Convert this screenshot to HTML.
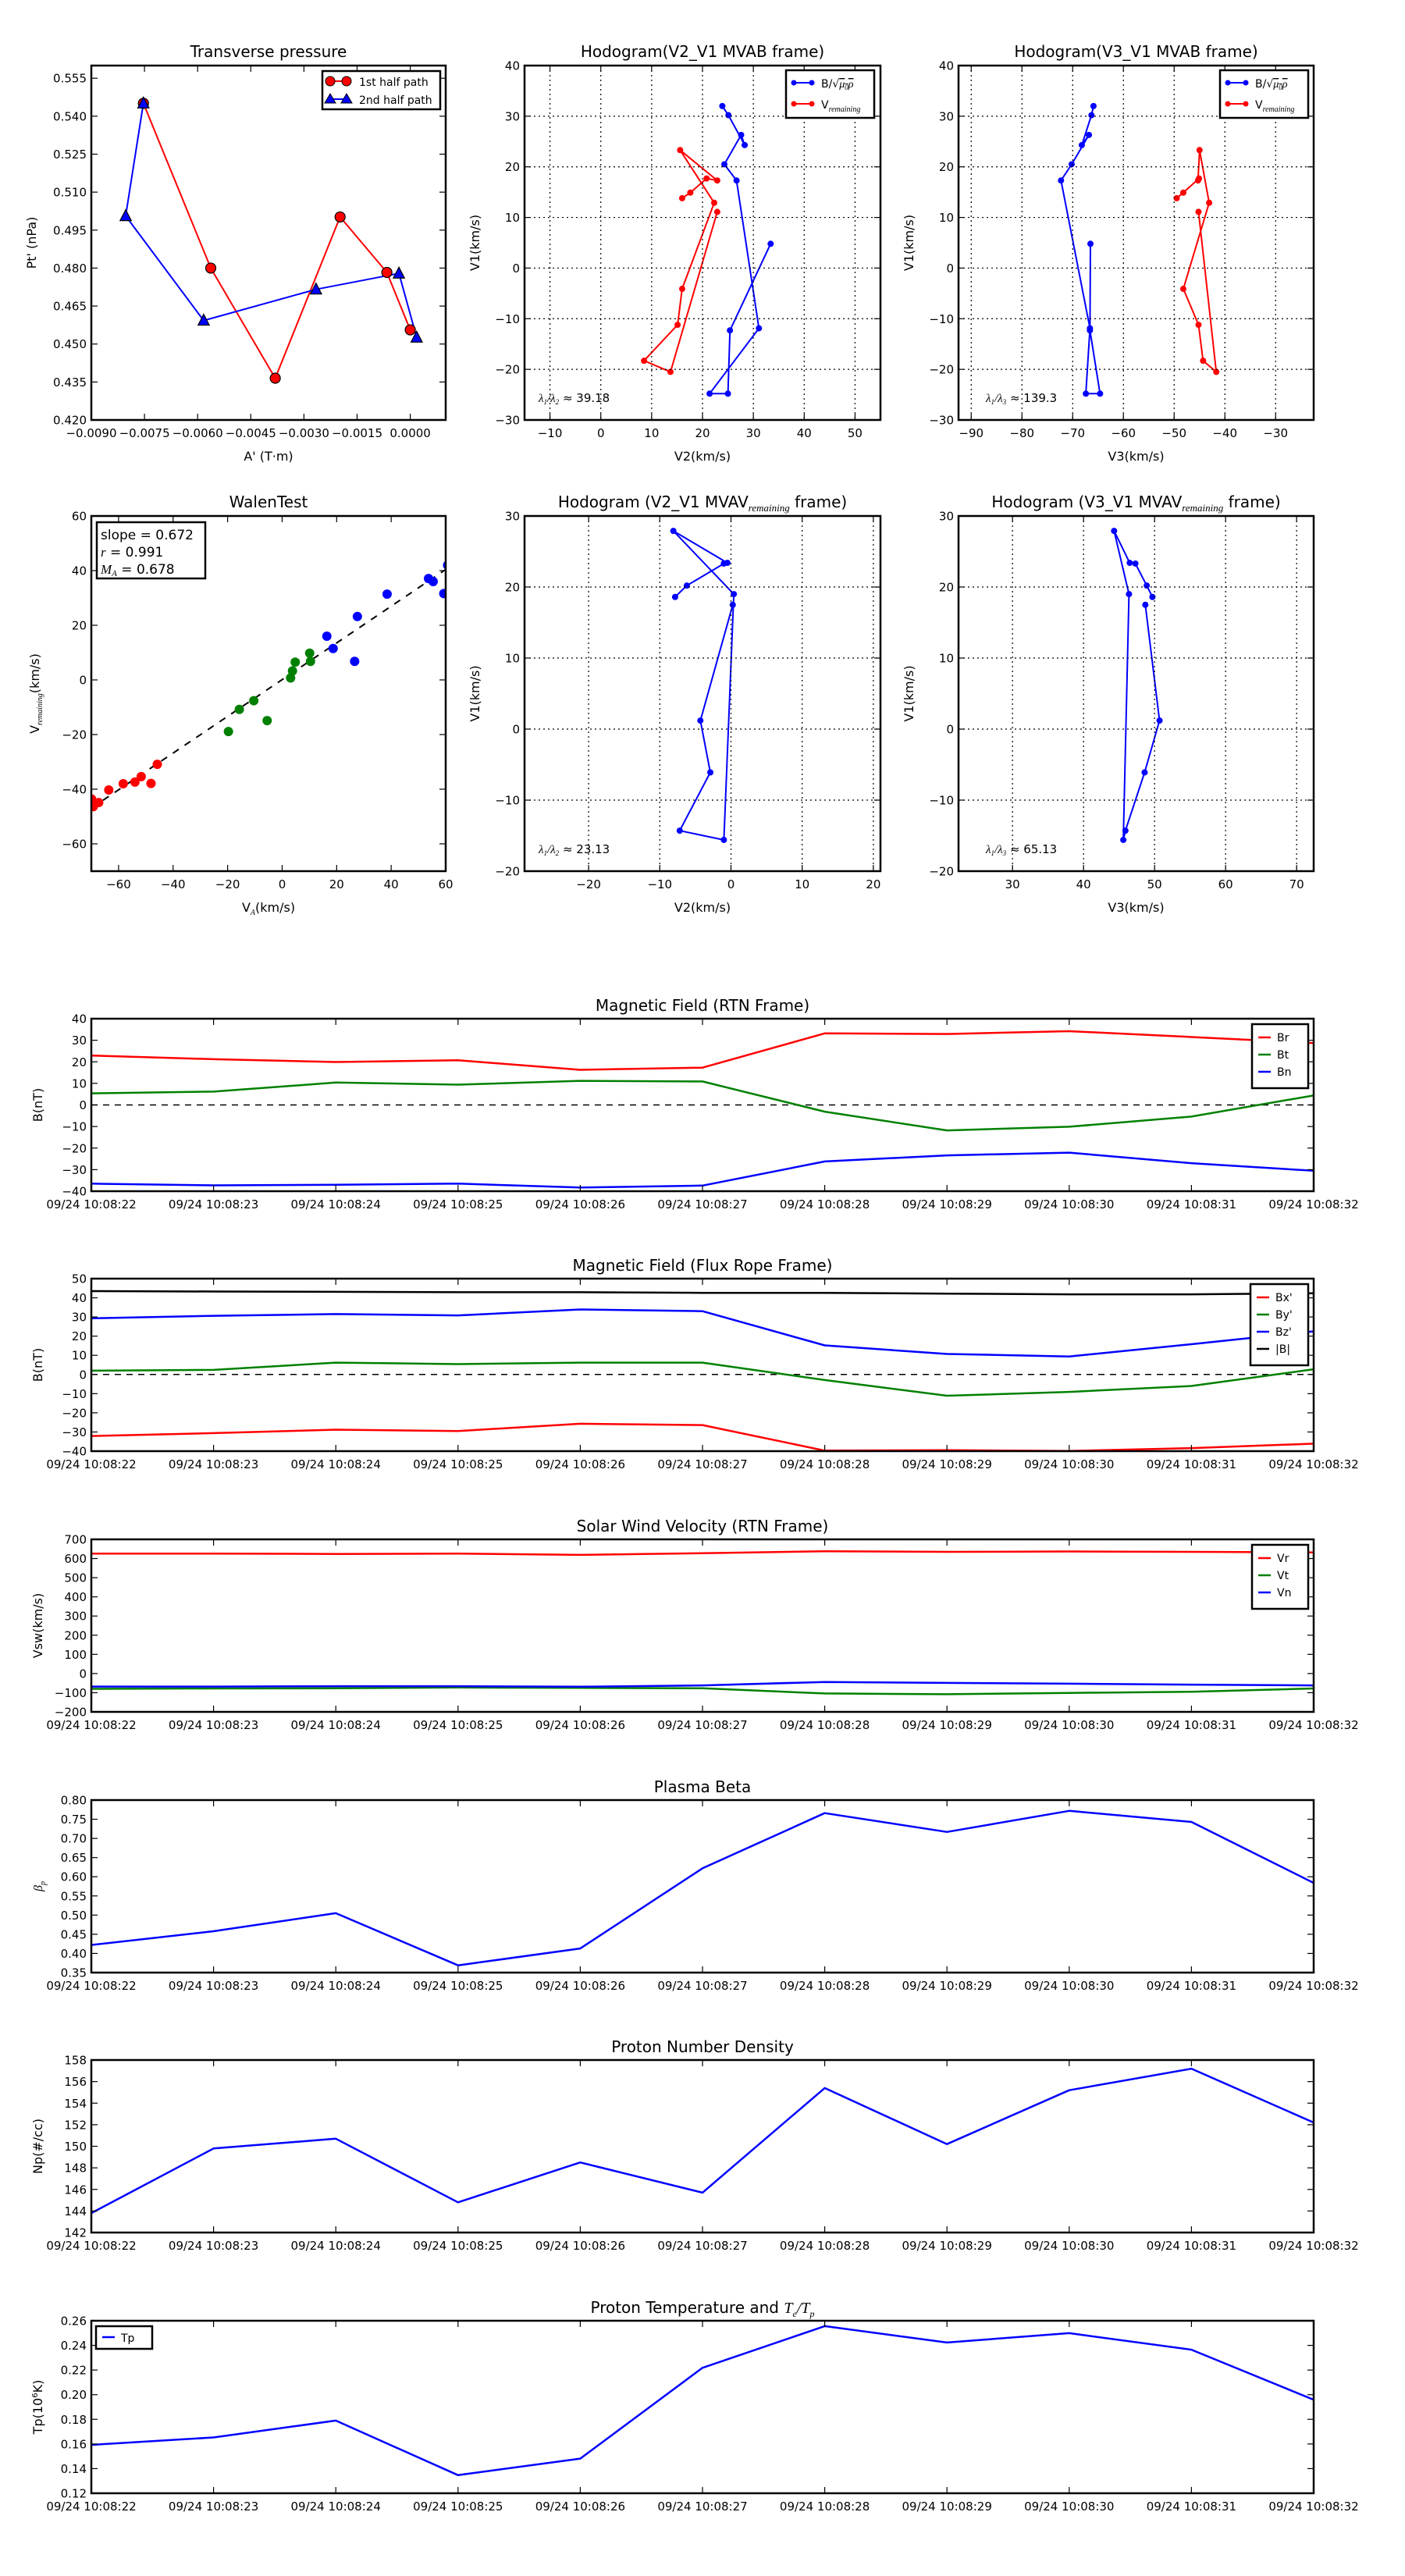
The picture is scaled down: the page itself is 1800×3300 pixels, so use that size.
<!DOCTYPE html>
<html><head><meta charset="utf-8"><title>Flux rope analysis</title>
<style>
html,body{margin:0;padding:0;background:#fff;}
svg{display:block;font-family:"DejaVu Sans","Liberation Sans",sans-serif;}
</style></head>
<body>
<svg id="fig" width="1800" height="3300" viewBox="0 0 1800 3300" xmlns="http://www.w3.org/2000/svg">
<rect x="0" y="0" width="1800" height="3300" fill="#fff"/>
</svg>
<script>
// ===== Data =====
const ptRedA = [-0.00753,-0.00563,-0.00381,-0.00198,-0.00066,0.0000];
const ptRedP = [0.5451,0.4800,0.4365,0.5002,0.4783,0.4556];
const ptBlueA = [-0.00753,-0.00803,-0.00583,-0.00266,-0.00032,0.00018];
const ptBlueP = [0.5451,0.5006,0.4593,0.4716,0.4779,0.4526];

const hodoBV2 = [23.9,25.1,28.3,27.6,24.3,26.7,31.1,21.4,25.0,25.4,33.4];
const hodoBV1 = [32.0,30.2,24.3,26.3,20.5,17.3,-11.9,-24.8,-24.8,-12.3,4.8];
const hodoBV3 = [-65.9,-66.3,-68.2,-66.8,-70.2,-72.3,-66.6,-67.4,-64.6,-66.6,-66.5];
const hodoRV2 = [16.0,17.6,20.8,22.9,15.6,22.3,16.0,15.1,8.5,13.7,22.9];
const hodoRV1 = [13.8,14.9,17.7,17.3,23.3,12.9,-4.1,-11.2,-18.3,-20.5,11.1];
const hodoRV3 = [-49.5,-48.2,-45.1,-45.3,-45.0,-43.1,-48.2,-45.2,-44.3,-41.7,-45.2];

const walenRedX = [-69.9,-69.3,-67.3,-63.6,-58.3,-54.0,-51.7,-48.1,-45.8];
const walenRedY = [-43.6,-46.4,-44.9,-40.3,-38.0,-37.4,-35.4,-37.9,-30.9];
const walenGreenX = [-19.7,-15.7,-10.4,-5.5,3.1,3.8,4.8,10.1,10.4];
const walenGreenY = [-18.9,-10.8,-7.6,-14.9,0.7,3.3,6.5,9.8,6.8];
const walenBlueX = [16.4,18.7,26.6,27.6,38.5,53.7,55.4,59.3,60.7];
const walenBlueY = [16.0,11.5,6.8,23.2,31.4,37.1,36.0,31.6,42.0];
const walenSlope = 0.672;
const walenIntercept = 0.1;

const mvavV2 = [-7.85,-6.2,-1.0,-0.5,-8.1,0.4,-1.0,-7.2,-2.9,-4.3,0.25];
const mvavV1 = [18.6,20.2,23.3,23.4,27.9,19.0,-15.6,-14.3,-6.1,1.2,17.5];
const mvavV3 = [49.7,48.9,47.3,46.5,44.3,46.4,45.6,45.9,48.6,50.7,48.7];

const timeLabels = ["09/24 10:08:22","09/24 10:08:23","09/24 10:08:24","09/24 10:08:25","09/24 10:08:26","09/24 10:08:27","09/24 10:08:28","09/24 10:08:29","09/24 10:08:30","09/24 10:08:31","09/24 10:08:32"];
const Br = [22.9,21.2,19.9,20.7,16.3,17.3,33.2,32.9,34.2,31.5,28.7];
const Bt = [5.4,6.2,10.4,9.4,11.2,10.9,-3.1,-11.8,-10.1,-5.4,4.4];
const Bn = [-36.5,-37.3,-37.0,-36.5,-38.3,-37.4,-26.2,-23.4,-22.1,-27.0,-30.5];
const Bxp = [-32.1,-30.6,-28.8,-29.5,-25.7,-26.4,-39.7,-39.5,-39.9,-38.4,-36.1];
const Byp = [2.0,2.4,6.2,5.4,6.2,6.2,-2.9,-11.1,-9.1,-6.0,2.7];
const Bzp = [29.3,30.6,31.5,30.8,33.9,33.0,15.2,10.7,9.4,15.8,22.5];
const Bmag = [43.5,43.3,43.1,42.9,42.9,42.6,42.6,42.2,41.8,41.8,42.4];
const Vr = [626,626,624,626,619,628,638,635,637,635,632];
const Vt = [-80,-78,-77,-73,-75,-77,-104,-108,-101,-95,-78];
const Vn = [-68,-68,-66,-66,-69,-62,-44,-49,-53,-58,-62];
const betaP = [0.422,0.458,0.505,0.369,0.413,0.622,0.766,0.717,0.772,0.743,0.584];
const Np = [143.8,149.8,150.7,144.8,148.5,145.7,155.4,150.2,155.2,157.2,152.2];
const Tp = [0.1593,0.1653,0.1790,0.1347,0.1481,0.2218,0.2556,0.2423,0.2499,0.2365,0.1959];

// ===== Helpers =====
const NS = 'http://www.w3.org/2000/svg';
const svg = document.getElementById('fig');
function mk(tag, attrs, parent){
  const e = document.createElementNS(NS, tag);
  for (const k in attrs) e.setAttribute(k, attrs[k]);
  (parent||svg).appendChild(e);
  return e;
}
function fmtNum(v, d){ const s = Math.abs(v).toFixed(d); return (v < -1e-12 ? '\u2212' : '') + s; }
let clipId = 0;

function makeAxes(name, x0, y0, w, h, xr, yr){
  const g = mk('g', {});
  
  
  const sx = v => x0 + (v - xr[0]) / (xr[1] - xr[0]) * w;
  const sy = v => y0 + h - (v - yr[0]) / (yr[1] - yr[0]) * h;
  clipId++;
  const cp = mk('clipPath', {id:'cp'+clipId}, g);
  mk('rect', {x:x0, y:y0, width:w, height:h}, cp);
  const data = mk('g', {'clip-path':'url(#cp'+clipId+')'}, g);
  
  
  return {g, data, sx, sy, x0, y0, w, h};
}
function frame(ax){
  const r = mk('rect', {x:ax.x0, y:ax.y0, width:ax.w, height:ax.h, fill:'none', stroke:'#000', 'stroke-width':2.5}, ax.g);
  
  
}
function xTicks(ax, vals, labels, grid, labY){
  vals.forEach((v,i)=>{
    const x = ax.sx(v);
    if (grid){
      const gl = mk('line', {x1:x, y1:ax.y0, x2:x, y2:ax.y0+ax.h, stroke:'#000', 'stroke-width':1.2, 'stroke-dasharray':'2,4'}, ax.g);
      
      
    }
    const t1 = mk('line', {x1:x, y1:ax.y0+ax.h, x2:x, y2:ax.y0+ax.h-8, stroke:'#000', 'stroke-width':1.2}, ax.g);
    
    
    const t2 = mk('line', {x1:x, y1:ax.y0, x2:x, y2:ax.y0+8, stroke:'#000', 'stroke-width':1.2}, ax.g);
    
    
    const tx = mk('text', {x:x, y:labY || (ax.y0+ax.h+22), 'text-anchor':'middle', 'font-size':15}, ax.g);
    tx.textContent = labels[i];
    
    
  });
}
function yTicks(ax, vals, labels, grid){
  vals.forEach((v,i)=>{
    const y = ax.sy(v);
    if (grid){
      const gl = mk('line', {x1:ax.x0, y1:y, x2:ax.x0+ax.w, y2:y, stroke:'#000', 'stroke-width':1.2, 'stroke-dasharray':'2,4'}, ax.g);
      
      
    }
    const t1 = mk('line', {x1:ax.x0, y1:y, x2:ax.x0+8, y2:y, stroke:'#000', 'stroke-width':1.2}, ax.g);
    
    
    const t2 = mk('line', {x1:ax.x0+ax.w, y1:y, x2:ax.x0+ax.w-8, y2:y, stroke:'#000', 'stroke-width':1.2}, ax.g);
    
    
    const tx = mk('text', {x:ax.x0-6, y:y+5.5, 'text-anchor':'end', 'font-size':15}, ax.g);
    tx.textContent = labels[i];
    
    
  });
}
function range(a, b, s){ const r=[]; for(let v=a; v<=b+s*1e-6; v+=s) r.push(+v.toFixed(6)); return r; }
function title(ax, html, y){
  const t = mk('text', {x:ax.x0+ax.w/2, y:y, 'text-anchor':'middle', 'font-size':20}, ax.g);
  t.innerHTML = html;
  
  
}
function xlabel(ax, html, y){
  const t = mk('text', {x:ax.x0+ax.w/2, y:y, 'text-anchor':'middle', 'font-size':16}, ax.g);
  t.innerHTML = html;
  
  
}
function ylabel(ax, html, x){
  const cy = ax.y0 + ax.h/2;
  const t = mk('text', {x:x, y:cy, 'text-anchor':'middle', 'font-size':16, transform:'rotate(-90 '+x+' '+cy+')'}, ax.g);
  t.innerHTML = html;
  
  
}
function polyline(ax, xs, ys, color, sw, name){
  const pts = xs.map((v,i)=> ax.sx(v).toFixed(1)+','+ax.sy(ys[i]).toFixed(1)).join(' ');
  const p = mk('polyline', {points:pts, fill:'none', stroke:color, 'stroke-width':sw, 'stroke-linejoin':'round'}, ax.data);
  
  
  return p;
}
function dots(ax, xs, ys, color, r, name, edge){
  xs.forEach((v,i)=>{
    const c = mk('circle', {cx:ax.sx(v), cy:ax.sy(ys[i]), r:r, fill:color, stroke:edge||color, 'stroke-width':edge?1.2:0}, ax.data);
    
    
  });
}
function tris(ax, xs, ys, color, s, name){
  xs.forEach((v,i)=>{
    const x = ax.sx(v), y = ax.sy(ys[i]);
    const p = mk('polygon', {points:`${x},${y-s} ${x-s*0.9},${y+s*0.75} ${x+s*0.9},${y+s*0.75}`, fill:color, stroke:'#000', 'stroke-width':1.2}, ax.data);
    
    
  });
}
function legendBox(parent, x, y, w, h, name){
  const r = mk('rect', {x:x, y:y, width:w, height:h, fill:'#fff', stroke:'#000', 'stroke-width':2.5}, parent);
  
  
}
function legendText(parent, x, y, html, fs){
  const t = mk('text', {x:x, y:y, 'font-size':fs||15}, parent);
  t.innerHTML = html;
  
  
}

// ===== Row 1 =====
const R1Y = 84, R1H = 454, R2Y = 661, R2H = 455;

// Transverse pressure
(function(){
  const ax = makeAxes('transverse-pressure-chart', 117, R1Y, 454, R1H, [-0.009,0.001], [0.42,0.56]);
  const xv = range(-0.009, 0, 0.0015);
  xTicks(ax, xv, xv.map(v=>fmtNum(v,4)), false, R1Y+R1H+22);
  const yv = range(0.42, 0.555, 0.015);
  yTicks(ax, yv, yv.map(v=>v.toFixed(3)), false);
  polyline(ax, ptRedA, ptRedP, '#f00', 2, 'first-half-path-line');
  polyline(ax, ptBlueA, ptBlueP, '#00f', 2, 'second-half-path-line');
  dots(ax, ptRedA, ptRedP, '#f00', 6.5, 'first-half-point', '#000');
  tris(ax, ptBlueA, ptBlueP, '#00f', 8, 'second-half-point');
  frame(ax);
  title(ax, 'Transverse pressure', 73);
  xlabel(ax, "A' (T\u00B7m)", 590);
  ylabel(ax, "Pt' (nPa)", 46);
  const lg = mk('g', {}, ax.g);
  
  
  legendBox(lg, 413, 91, 151, 49, 'legend-box');
  mk('line', {x1:423, y1:104, x2:444, y2:104, stroke:'#f00', 'stroke-width':2}, lg);
  mk('circle', {cx:423, cy:104, r:6, fill:'#f00', stroke:'#000'}, lg);
  mk('circle', {cx:444, cy:104, r:6, fill:'#f00', stroke:'#000'}, lg);
  legendText(lg, 460, 110, '1st half path', 14);
  mk('line', {x1:423, y1:127, x2:444, y2:127, stroke:'#00f', 'stroke-width':2}, lg);
  mk('polygon', {points:'423,120 416,132 430,132', fill:'#00f', stroke:'#000'}, lg);
  mk('polygon', {points:'444,120 437,132 451,132', fill:'#00f', stroke:'#000'}, lg);
  legendText(lg, 460, 133, '2nd half path', 14);
})();

function hodoLegend(ax, x, y){
  const lg = mk('g', {}, ax.g);
  
  
  legendBox(lg, x, y, 113, 61, 'legend-box');
  mk('line', {x1:x+10, y1:y+16, x2:x+33, y2:y+16, stroke:'#00f', 'stroke-width':2}, lg);
  mk('circle', {cx:x+10, cy:y+16, r:3.5, fill:'#00f'}, lg);
  mk('circle', {cx:x+33, cy:y+16, r:3.5, fill:'#00f'}, lg);
  legendText(lg, x+45, y+22, 'B/\u221A<tspan text-decoration="overline" font-style="italic" font-family="Liberation Serif, serif">\u03BC<tspan font-size="9" dy="3">0</tspan><tspan dy="-3">\u03C1</tspan></tspan>', 14);
  mk('line', {x1:x+10, y1:y+43, x2:x+33, y2:y+43, stroke:'#f00', 'stroke-width':2}, lg);
  mk('circle', {cx:x+10, cy:y+43, r:3.5, fill:'#f00'}, lg);
  mk('circle', {cx:x+33, cy:y+43, r:3.5, fill:'#f00'}, lg);
  legendText(lg, x+45, y+49, 'V<tspan font-size="10" dy="4" font-style="italic" font-family="Liberation Serif, serif">remaining</tspan>', 14);
}

// Hodogram V2_V1 MVAB
(function(){
  const ax = makeAxes('hodogram-v2-v1-mvab-chart', 672, R1Y, 456, R1H, [-15,55], [-30,40]);
  const xv = range(-10, 50, 10);
  xTicks(ax, xv, xv.map(v=>fmtNum(v,0)), true, R1Y+R1H+22);
  const yv = range(-30, 40, 10);
  yTicks(ax, yv, yv.map(v=>fmtNum(v,0)), true);
  polyline(ax, hodoBV2, hodoBV1, '#00f', 2, 'b-hodogram-line');
  dots(ax, hodoBV2, hodoBV1, '#00f', 4, 'b-hodogram-point');
  polyline(ax, hodoRV2, hodoRV1, '#f00', 2, 'v-remaining-hodogram-line');
  dots(ax, hodoRV2, hodoRV1, '#f00', 4, 'v-remaining-hodogram-point');
  frame(ax);
  title(ax, 'Hodogram(V2_V1 MVAB frame)', 73);
  xlabel(ax, 'V2(km/s)', 590);
  ylabel(ax, 'V1(km/s)', 614);
  hodoLegend(ax, 1007, 90);
  legendText(ax.g, 690, 515, '<tspan font-style="italic" font-family="Liberation Serif, serif">\u03BB<tspan font-size="9" dy="3">1</tspan><tspan dy="-3">/\u03BB</tspan><tspan font-size="9" dy="3">2</tspan></tspan><tspan dy="-3"> \u2248 39.18</tspan>', 15);
})();

// Hodogram V3_V1 MVAB
(function(){
  const ax = makeAxes('hodogram-v3-v1-mvab-chart', 1228, R1Y, 455, R1H, [-92.5,-22.5], [-30,40]);
  const xv = range(-90, -30, 10);
  xTicks(ax, xv, xv.map(v=>fmtNum(v,0)), true, R1Y+R1H+22);
  const yv = range(-30, 40, 10);
  yTicks(ax, yv, yv.map(v=>fmtNum(v,0)), true);
  polyline(ax, hodoBV3, hodoBV1, '#00f', 2, 'b-hodogram-line');
  dots(ax, hodoBV3, hodoBV1, '#00f', 4, 'b-hodogram-point');
  polyline(ax, hodoRV3, hodoRV1, '#f00', 2, 'v-remaining-hodogram-line');
  dots(ax, hodoRV3, hodoRV1, '#f00', 4, 'v-remaining-hodogram-point');
  frame(ax);
  title(ax, 'Hodogram(V3_V1 MVAB frame)', 73);
  xlabel(ax, 'V3(km/s)', 590);
  ylabel(ax, 'V1(km/s)', 1170);
  hodoLegend(ax, 1563, 90);
  legendText(ax.g, 1263, 515, '<tspan font-style="italic" font-family="Liberation Serif, serif">\u03BB<tspan font-size="9" dy="3">1</tspan><tspan dy="-3">/\u03BB</tspan><tspan font-size="9" dy="3">3</tspan></tspan><tspan dy="-3"> \u2248 139.3</tspan>', 15);
})();

// ===== Row 2 =====
(function(){
  const ax = makeAxes('walen-test-chart', 117, R2Y, 454, R2H, [-70,60], [-70,60]);
  const xv = range(-60, 60, 20);
  xTicks(ax, xv, xv.map(v=>fmtNum(v,0)), false, R2Y+R2H+22);
  const yv = range(-60, 60, 20);
  yTicks(ax, yv, yv.map(v=>fmtNum(v,0)), false);
  const fit = mk('line', {x1:ax.sx(-70), y1:ax.sy(walenSlope*-70+walenIntercept), x2:ax.sx(60), y2:ax.sy(walenSlope*60+walenIntercept), stroke:'#000', 'stroke-width':2, 'stroke-dasharray':'9,9'}, ax.data);
  
  
  dots(ax, walenRedX, walenRedY, '#f00', 6, 'walen-point-red');
  dots(ax, walenGreenX, walenGreenY, '#008000', 6, 'walen-point-green');
  dots(ax, walenBlueX, walenBlueY, '#00f', 6, 'walen-point-blue');
  frame(ax);
  title(ax, 'WalenTest', 650);
  xlabel(ax, 'V<tspan font-size="10" dy="4" font-style="italic" font-family="Liberation Serif, serif">A</tspan><tspan dy="-4">(km/s)</tspan>', 1168);
  ylabel(ax, 'V<tspan font-size="10" dy="4" font-style="italic" font-family="Liberation Serif, serif">remaining</tspan><tspan dy="-4">(km/s)</tspan>', 50);
  const lg = mk('g', {}, ax.g);
  
  
  legendBox(lg, 124, 669, 139, 72, 'stats-box');
  legendText(lg, 129, 691, 'slope = 0.672', 17);
  legendText(lg, 129, 713, '<tspan font-style="italic" font-family="Liberation Serif, serif">r</tspan> = 0.991', 17);
  legendText(lg, 129, 735, '<tspan font-style="italic" font-family="Liberation Serif, serif">M<tspan font-size="11" dy="3">A</tspan></tspan><tspan dy="-3"> = 0.678</tspan>', 17);
})();

(function(){
  const ax = makeAxes('hodogram-v2-v1-mvav-chart', 672, R2Y, 456, R2H, [-29,21], [-20,30]);
  const xv = range(-20, 20, 10);
  xTicks(ax, xv, xv.map(v=>fmtNum(v,0)), true, R2Y+R2H+22);
  const yv = range(-20, 30, 10);
  yTicks(ax, yv, yv.map(v=>fmtNum(v,0)), true);
  polyline(ax, mvavV2, mvavV1, '#00f', 2, 'mvav-hodogram-line');
  dots(ax, mvavV2, mvavV1, '#00f', 4, 'mvav-hodogram-point');
  frame(ax);
  title(ax, 'Hodogram (V2_V1 MVAV<tspan font-size="13" dy="5" font-style="italic" font-family="Liberation Serif, serif">remaining</tspan><tspan dy="-5"> frame)</tspan>', 650);
  xlabel(ax, 'V2(km/s)', 1168);
  ylabel(ax, 'V1(km/s)', 614);
  legendText(ax.g, 690, 1093, '<tspan font-style="italic" font-family="Liberation Serif, serif">\u03BB<tspan font-size="9" dy="3">1</tspan><tspan dy="-3">/\u03BB</tspan><tspan font-size="9" dy="3">2</tspan></tspan><tspan dy="-3"> \u2248 23.13</tspan>', 15);
})();

(function(){
  const ax = makeAxes('hodogram-v3-v1-mvav-chart', 1228, R2Y, 455, R2H, [22.4,72.4], [-20,30]);
  const xv = range(30, 70, 10);
  xTicks(ax, xv, xv.map(v=>fmtNum(v,0)), true, R2Y+R2H+22);
  const yv = range(-20, 30, 10);
  yTicks(ax, yv, yv.map(v=>fmtNum(v,0)), true);
  polyline(ax, mvavV3, mvavV1, '#00f', 2, 'mvav-hodogram-line');
  dots(ax, mvavV3, mvavV1, '#00f', 4, 'mvav-hodogram-point');
  frame(ax);
  title(ax, 'Hodogram (V3_V1 MVAV<tspan font-size="13" dy="5" font-style="italic" font-family="Liberation Serif, serif">remaining</tspan><tspan dy="-5"> frame)</tspan>', 650);
  xlabel(ax, 'V3(km/s)', 1168);
  ylabel(ax, 'V1(km/s)', 1170);
  legendText(ax.g, 1263, 1093, '<tspan font-style="italic" font-family="Liberation Serif, serif">\u03BB<tspan font-size="9" dy="3">1</tspan><tspan dy="-3">/\u03BB</tspan><tspan font-size="9" dy="3">3</tspan></tspan><tspan dy="-3"> \u2248 65.13</tspan>', 15);
})();

// ===== Time series =====
const TS_X0 = 117, TS_W = 1566, TS_H = 221;
const tsTops = [1305,1638,1972,2306,2639,2973];
const tIdx = timeLabels.map((_,i)=>i);

function drawTS(k, name, ttl, yr, yv, dec, series, ylab, legend, zero){
  const top = tsTops[k];
  const ax = makeAxes(name, TS_X0, top, TS_W, TS_H, [0,10], yr);
  xTicks(ax, tIdx, timeLabels, false, top+TS_H+22);
  yTicks(ax, yv, yv.map(v=>fmtNum(v,dec)), false);
  if (zero){
    const z = mk('line', {x1:TS_X0, y1:ax.sy(0), x2:TS_X0+TS_W, y2:ax.sy(0), stroke:'#000', 'stroke-width':1.5, 'stroke-dasharray':'8,7'}, ax.data);
    
    
  }
  series.forEach(s => polyline(ax, tIdx, s.vals, s.color, 2.5, s.id));
  frame(ax);
  title(ax, ttl, top-10);
  ylabel(ax, ylab, 54);
  if (legend){
    const lg = mk('g', {}, ax.g);
    
    
    const h = 16 + series.length*22;
    legendBox(lg, legend.x, top+7, legend.w, h, 'legend-box');
    series.forEach((s,i)=>{
      const y = top + 7 + 17 + i*22;
      const ln = mk('line', {x1:legend.x+8, y1:y, x2:legend.x+24, y2:y, stroke:s.color, 'stroke-width':2.5}, lg);
      
      
      legendText(lg, legend.x+32, y+5, s.label, 14);
    });
  }
}

drawTS(0, 'magnetic-field-rtn-chart', 'Magnetic Field (RTN Frame)', [-40,40], range(-40,40,10), 0,
  [{id:'br-line', label:'Br', color:'#f00', vals:Br},{id:'bt-line', label:'Bt', color:'#008000', vals:Bt},{id:'bn-line', label:'Bn', color:'#00f', vals:Bn}],
  'B(nT)', {x:1604, w:72}, true);
drawTS(1, 'magnetic-field-flux-rope-chart', 'Magnetic Field (Flux Rope Frame)', [-40,50], range(-40,50,10), 0,
  [{id:'bx-prime-line', label:"Bx'", color:'#f00', vals:Bxp},{id:'by-prime-line', label:"By'", color:'#008000', vals:Byp},{id:'bz-prime-line', label:"Bz'", color:'#00f', vals:Bzp},{id:'b-magnitude-line', label:'|B|', color:'#000', vals:Bmag}],
  'B(nT)', {x:1602, w:74}, true);
drawTS(2, 'solar-wind-velocity-chart', 'Solar Wind Velocity (RTN Frame)', [-200,700], range(-200,700,100), 0,
  [{id:'vr-line', label:'Vr', color:'#f00', vals:Vr},{id:'vt-line', label:'Vt', color:'#008000', vals:Vt},{id:'vn-line', label:'Vn', color:'#00f', vals:Vn}],
  'Vsw(km/s)', {x:1604, w:72}, false);
drawTS(3, 'plasma-beta-chart', 'Plasma Beta', [0.35,0.80], range(0.35,0.80,0.05), 2,
  [{id:'beta-line', label:'beta', color:'#00f', vals:betaP}],
  '<tspan font-style="italic" font-family="Liberation Serif, serif">\u03B2<tspan font-size="10" dy="4">p</tspan></tspan>', null, false);
drawTS(4, 'proton-density-chart', 'Proton Number Density', [142,158], range(142,158,2), 0,
  [{id:'np-line', label:'Np', color:'#00f', vals:Np}],
  'Np(#/cc)', null, false);
drawTS(5, 'proton-temperature-chart', 'Proton Temperature and <tspan font-style="italic" font-family="Liberation Serif, serif">T<tspan font-size="12" dy="5">e</tspan><tspan dy="-5">/T</tspan><tspan font-size="12" dy="5">p</tspan></tspan>', [0.12,0.26], range(0.12,0.26,0.02), 2,
  [{id:'tp-line', label:'Tp', color:'#00f', vals:Tp}],
  'Tp(10<tspan font-size="10" dy="-6">6</tspan><tspan dy="6">K)</tspan>', null, false);

// Tp legend (upper left)
(function(){
  const top = tsTops[5];
  const lg = mk('g', {});
  
  
  legendBox(lg, 123, top+7, 72, 29, 'legend-box');
  const ln = mk('line', {x1:131, y1:top+21, x2:147, y2:top+21, stroke:'#00f', 'stroke-width':2.5}, lg);
  
  
  legendText(lg, 155, top+27, 'Tp', 14);
})();
</script>
</body></html>
